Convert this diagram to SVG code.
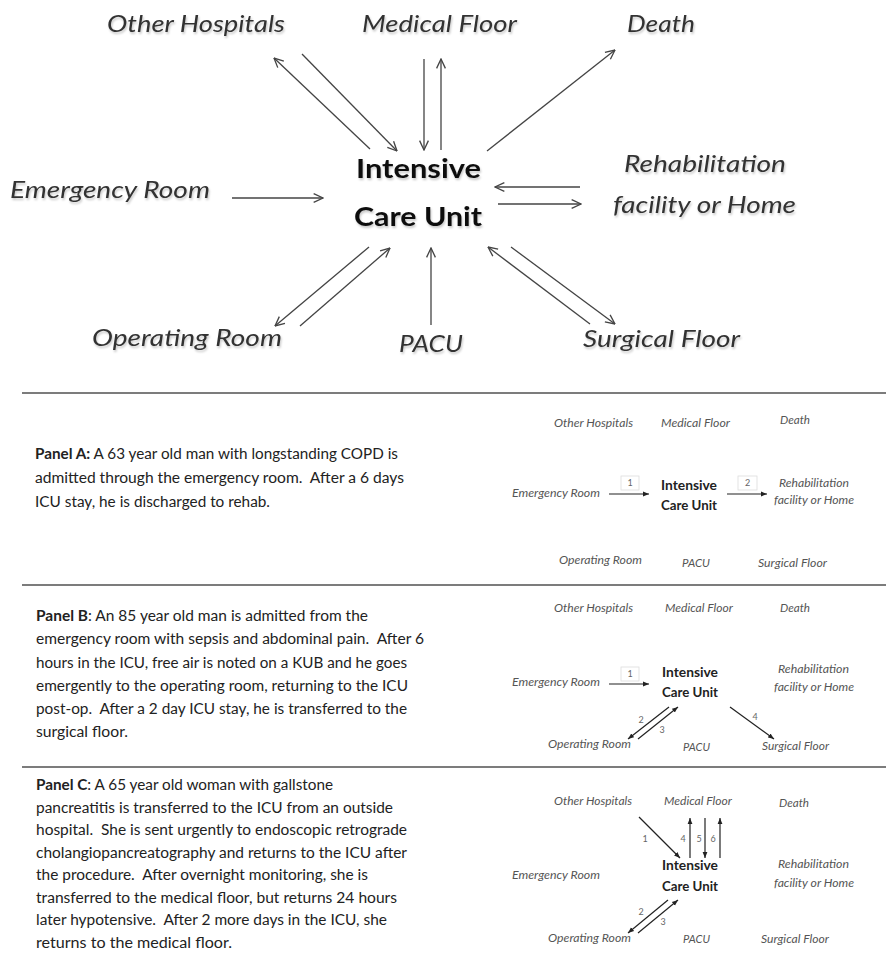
<svg xmlns="http://www.w3.org/2000/svg" width="886" height="954" viewBox="0 0 886 954">
  <defs>
    <style>
      .big { font-family: "Lato", "Liberation Sans", sans-serif; font-style: italic; font-size: 24px; fill: #333; filter: url(#soft); }
      .icu { font-family: "Lato", "Liberation Sans", sans-serif; font-weight: bold; font-size: 26px; fill: #111; filter: url(#soft); }
      .sm { font-family: "Lato", "Liberation Sans", sans-serif; font-style: italic; font-size: 11px; fill: #555; }
      .smicu { font-family: "Lato", "Liberation Sans", sans-serif; font-weight: bold; font-size: 12.5px; fill: #222; }
      .num { font-family: "Lato", "Liberation Sans", sans-serif; font-size: 9px; fill: #666; text-anchor: middle; }
      .body { font-family: "Lato", "Liberation Sans", sans-serif; font-size: 14.5px; fill: #222; }
      .body .b { font-weight: bold; }
      .sep { stroke: #7c7c7c; stroke-width: 2; }
      .big-arrow { stroke: #444; stroke-width: 1.3; fill: none; marker-end: url(#open); }
      .sm-arrow { stroke: #222; stroke-width: 1.2; fill: none; marker-end: url(#solid); }
      .tag { fill: #fff; stroke: #ddd; stroke-width: 0.8; }
    </style>
    <filter id="soft" x="-10%" y="-40%" width="130%" height="200%">
      <feDropShadow dx="1" dy="2" stdDeviation="1.2" flood-color="#000" flood-opacity="0.22"/>
    </filter>
    <marker id="open" viewBox="0 0 10 10" refX="9.5" refY="5" markerWidth="11" markerHeight="11" markerUnits="userSpaceOnUse" orient="auto">
      <path d="M1,1 L9.5,5 L1,9" fill="none" stroke="#444" stroke-width="1.2"/>
    </marker>
    <marker id="solid" viewBox="0 0 10 10" refX="10" refY="5" markerWidth="6" markerHeight="6" markerUnits="userSpaceOnUse" orient="auto">
      <path d="M0,1 L10,5 L0,9 z" fill="#222"/>
    </marker>
  </defs>

  <rect width="886" height="954" fill="#fff"/>

  <!-- Overview: all possible ICU transfers -->
  <g id="overview">
    <g id="connectors">
      <line class="big-arrow" x1="370" y1="149" x2="274" y2="58"/>
      <line class="big-arrow" x1="302" y1="54" x2="397" y2="151"/>
      <line class="big-arrow" x1="424" y1="59" x2="424" y2="150"/>
      <line class="big-arrow" x1="441" y1="150" x2="441" y2="59"/>
      <line class="big-arrow" x1="487" y1="151" x2="615" y2="50"/>
      <line class="big-arrow" x1="232" y1="198" x2="323" y2="198"/>
      <line class="big-arrow" x1="580" y1="187" x2="495" y2="187"/>
      <line class="big-arrow" x1="498" y1="204" x2="581" y2="204"/>
      <line class="big-arrow" x1="369" y1="247" x2="275" y2="326"/>
      <line class="big-arrow" x1="300" y1="326" x2="390" y2="248"/>
      <line class="big-arrow" x1="431" y1="325" x2="431" y2="248"/>
      <line class="big-arrow" x1="590" y1="324" x2="488" y2="247"/>
      <line class="big-arrow" x1="511" y1="247" x2="615" y2="324"/>
    </g>
    <g id="other-hospitals"><text class="big" x="107" y="32" textLength="178" lengthAdjust="spacingAndGlyphs">Other Hospitals</text></g>
    <g id="medical-floor"><text class="big" x="362" y="32" textLength="155" lengthAdjust="spacingAndGlyphs">Medical Floor</text></g>
    <g id="death"><text class="big" x="627" y="32" textLength="68" lengthAdjust="spacingAndGlyphs">Death</text></g>
    <g id="emergency-room"><text class="big" x="10" y="198" textLength="200" lengthAdjust="spacingAndGlyphs">Emergency Room</text></g>
    <g id="rehab-home">
      <text class="big" x="624" y="172" textLength="162" lengthAdjust="spacingAndGlyphs">Rehabilitation</text>
      <text class="big" x="613" y="213" textLength="183" lengthAdjust="spacingAndGlyphs">facility or Home</text>
    </g>
    <g id="icu">
      <text class="icu" x="356" y="178" textLength="125" lengthAdjust="spacingAndGlyphs">Intensive</text>
      <text class="icu" x="354" y="226" textLength="128" lengthAdjust="spacingAndGlyphs">Care Unit</text>
    </g>
    <g id="operating-room"><text class="big" x="92" y="346" textLength="190" lengthAdjust="spacingAndGlyphs">Operating Room</text></g>
    <g id="pacu"><text class="big" x="399" y="352" textLength="64" lengthAdjust="spacingAndGlyphs">PACU</text></g>
    <g id="surgical-floor"><text class="big" x="583" y="347" textLength="157" lengthAdjust="spacingAndGlyphs">Surgical Floor</text></g>
  </g>

  <!-- Panel dividers -->
  <g id="dividers">
    <line class="sep" x1="22" y1="393" x2="886" y2="393"/>
    <line class="sep" x1="22" y1="585" x2="886" y2="585"/>
    <line class="sep" x1="22" y1="767" x2="886" y2="767"/>
  </g>

  <!-- Panel A -->
  <g id="panel-a">
    <g id="panel-a-text">
      <text class="body" x="35" y="459" textLength="363" lengthAdjust="spacingAndGlyphs" xml:space="preserve"><tspan class="b">Panel A:</tspan> A 63 year old man with longstanding COPD is</text>
      <text class="body" x="35" y="483" textLength="369" lengthAdjust="spacingAndGlyphs" xml:space="preserve">admitted through the emergency room.  After a 6 days</text>
      <text class="body" x="35" y="507" textLength="235" lengthAdjust="spacingAndGlyphs" xml:space="preserve">ICU stay, he is discharged to rehab.</text>
    </g>
    <g id="a-connectors">
      <line class="sm-arrow" x1="609" y1="494" x2="649" y2="494"/>
      <line class="sm-arrow" x1="727" y1="494" x2="767" y2="494"/>
      <rect class="tag" x="621" y="476" width="18" height="14"/>
      <text class="num" x="630" y="486">1</text>
      <rect class="tag" x="738" y="476" width="19" height="14"/>
      <text class="num" x="747.5" y="486">2</text>
    </g>
    <g id="a-other-hospitals"><text class="sm" x="554" y="427" textLength="79" lengthAdjust="spacingAndGlyphs">Other Hospitals</text></g>
    <g id="a-medical-floor"><text class="sm" x="661" y="427" textLength="69" lengthAdjust="spacingAndGlyphs">Medical Floor</text></g>
    <g id="a-death"><text class="sm" x="780" y="424" textLength="30" lengthAdjust="spacingAndGlyphs">Death</text></g>
    <g id="a-emergency-room"><text class="sm" x="512" y="497" textLength="88" lengthAdjust="spacingAndGlyphs">Emergency Room</text></g>
    <g id="a-icu">
      <text class="smicu" x="661" y="490" textLength="56" lengthAdjust="spacingAndGlyphs">Intensive</text>
      <text class="smicu" x="661" y="510" textLength="56" lengthAdjust="spacingAndGlyphs">Care Unit</text>
    </g>
    <g id="a-rehab-home">
      <text class="sm" x="779" y="487" textLength="70" lengthAdjust="spacingAndGlyphs">Rehabilitation</text>
      <text class="sm" x="774" y="504" textLength="80" lengthAdjust="spacingAndGlyphs">facility or Home</text>
    </g>
    <g id="a-operating-room"><text class="sm" x="559" y="564" textLength="83" lengthAdjust="spacingAndGlyphs">Operating Room</text></g>
    <g id="a-pacu"><text class="sm" x="682" y="567" textLength="28" lengthAdjust="spacingAndGlyphs">PACU</text></g>
    <g id="a-surgical-floor"><text class="sm" x="758" y="567" textLength="69" lengthAdjust="spacingAndGlyphs">Surgical Floor</text></g>
  </g>

  <!-- Panel B -->
  <g id="panel-b">
    <g id="panel-b-text">
      <text class="body" x="36" y="621" textLength="332" lengthAdjust="spacingAndGlyphs" xml:space="preserve"><tspan class="b">Panel B</tspan>: An 85 year old man is admitted from the</text>
      <text class="body" x="36" y="644" textLength="388" lengthAdjust="spacingAndGlyphs" xml:space="preserve">emergency room with sepsis and abdominal pain.  After 6</text>
      <text class="body" x="36" y="668" textLength="371" lengthAdjust="spacingAndGlyphs" xml:space="preserve">hours in the ICU, free air is noted on a KUB and he goes</text>
      <text class="body" x="36" y="691" textLength="372" lengthAdjust="spacingAndGlyphs" xml:space="preserve">emergently to the operating room, returning to the ICU</text>
      <text class="body" x="36" y="714" textLength="371" lengthAdjust="spacingAndGlyphs" xml:space="preserve">post-op.  After a 2 day ICU stay, he is transferred to the</text>
      <text class="body" x="36" y="737" textLength="92" lengthAdjust="spacingAndGlyphs" xml:space="preserve">surgical floor.</text>
    </g>
    <g id="b-connectors">
      <line class="sm-arrow" x1="609" y1="684" x2="649" y2="684"/>
      <rect class="tag" x="621" y="667" width="18" height="14"/>
      <text class="num" x="630" y="677">1</text>
      <line class="sm-arrow" x1="669" y1="707" x2="628" y2="739"/>
      <text class="num" x="641" y="723">2</text>
      <line class="sm-arrow" x1="638" y1="739" x2="678" y2="707"/>
      <text class="num" x="662" y="733">3</text>
      <line class="sm-arrow" x1="730" y1="707" x2="774" y2="739"/>
      <text class="num" x="755" y="720">4</text>
    </g>
    <g id="b-other-hospitals"><text class="sm" x="554" y="612" textLength="79" lengthAdjust="spacingAndGlyphs">Other Hospitals</text></g>
    <g id="b-medical-floor"><text class="sm" x="665" y="612" textLength="68" lengthAdjust="spacingAndGlyphs">Medical Floor</text></g>
    <g id="b-death"><text class="sm" x="780" y="612" textLength="30" lengthAdjust="spacingAndGlyphs">Death</text></g>
    <g id="b-emergency-room"><text class="sm" x="512" y="686" textLength="88" lengthAdjust="spacingAndGlyphs">Emergency Room</text></g>
    <g id="b-icu">
      <text class="smicu" x="662" y="677" textLength="56" lengthAdjust="spacingAndGlyphs">Intensive</text>
      <text class="smicu" x="662" y="697" textLength="56" lengthAdjust="spacingAndGlyphs">Care Unit</text>
    </g>
    <g id="b-rehab-home">
      <text class="sm" x="778" y="673" textLength="71" lengthAdjust="spacingAndGlyphs">Rehabilitation</text>
      <text class="sm" x="774" y="691" textLength="80" lengthAdjust="spacingAndGlyphs">facility or Home</text>
    </g>
    <g id="b-operating-room"><text class="sm" x="548" y="748" textLength="83" lengthAdjust="spacingAndGlyphs">Operating Room</text></g>
    <g id="b-pacu"><text class="sm" x="683" y="751" textLength="27" lengthAdjust="spacingAndGlyphs">PACU</text></g>
    <g id="b-surgical-floor"><text class="sm" x="762" y="750" textLength="67" lengthAdjust="spacingAndGlyphs">Surgical Floor</text></g>
  </g>

  <!-- Panel C -->
  <g id="panel-c">
    <g id="panel-c-text">
      <text class="body" x="36" y="790" textLength="297" lengthAdjust="spacingAndGlyphs" xml:space="preserve"><tspan class="b">Panel C</tspan>: A 65 year old woman with gallstone</text>
      <text class="body" x="36" y="812.5" textLength="357" lengthAdjust="spacingAndGlyphs" xml:space="preserve">pancreatitis is transferred to the ICU from an outside</text>
      <text class="body" x="36" y="835" textLength="371" lengthAdjust="spacingAndGlyphs" xml:space="preserve">hospital.  She is sent urgently to endoscopic retrograde</text>
      <text class="body" x="36" y="857.5" textLength="371" lengthAdjust="spacingAndGlyphs" xml:space="preserve">cholangiopancreatography and returns to the ICU after</text>
      <text class="body" x="36" y="880" textLength="332" lengthAdjust="spacingAndGlyphs" xml:space="preserve">the procedure.  After overnight monitoring, she is</text>
      <text class="body" x="36" y="902.5" textLength="361" lengthAdjust="spacingAndGlyphs" xml:space="preserve">transferred to the medical floor, but returns 24 hours</text>
      <text class="body" x="36" y="925" textLength="351" lengthAdjust="spacingAndGlyphs" xml:space="preserve">later hypotensive.  After 2 more days in the ICU, she</text>
      <text class="body" x="36" y="947.5" textLength="196" lengthAdjust="spacingAndGlyphs" xml:space="preserve">returns to the medical floor.</text>
    </g>
    <g id="c-connectors">
      <line class="sm-arrow" x1="639" y1="817" x2="680" y2="858"/>
      <text class="num" x="645" y="842">1</text>
      <line class="sm-arrow" x1="690" y1="858" x2="690" y2="818"/>
      <text class="num" x="683" y="842">4</text>
      <line class="sm-arrow" x1="705" y1="818" x2="705" y2="858"/>
      <text class="num" x="699" y="842">5</text>
      <line class="sm-arrow" x1="720" y1="858" x2="720" y2="818"/>
      <text class="num" x="713" y="842">6</text>
      <line class="sm-arrow" x1="668" y1="900" x2="628" y2="933"/>
      <text class="num" x="641" y="915">2</text>
      <line class="sm-arrow" x1="638" y1="933" x2="678" y2="900"/>
      <text class="num" x="663" y="925">3</text>
    </g>
    <g id="c-other-hospitals"><text class="sm" x="554" y="805" textLength="78" lengthAdjust="spacingAndGlyphs">Other Hospitals</text></g>
    <g id="c-medical-floor"><text class="sm" x="664" y="805" textLength="68" lengthAdjust="spacingAndGlyphs">Medical Floor</text></g>
    <g id="c-death"><text class="sm" x="779" y="807" textLength="30" lengthAdjust="spacingAndGlyphs">Death</text></g>
    <g id="c-emergency-room"><text class="sm" x="512" y="879" textLength="88" lengthAdjust="spacingAndGlyphs">Emergency Room</text></g>
    <g id="c-icu">
      <text class="smicu" x="662" y="870" textLength="56" lengthAdjust="spacingAndGlyphs">Intensive</text>
      <text class="smicu" x="662" y="891" textLength="56" lengthAdjust="spacingAndGlyphs">Care Unit</text>
    </g>
    <g id="c-rehab-home">
      <text class="sm" x="778" y="868" textLength="71" lengthAdjust="spacingAndGlyphs">Rehabilitation</text>
      <text class="sm" x="774" y="887" textLength="80" lengthAdjust="spacingAndGlyphs">facility or Home</text>
    </g>
    <g id="c-operating-room"><text class="sm" x="548" y="942" textLength="83" lengthAdjust="spacingAndGlyphs">Operating Room</text></g>
    <g id="c-pacu"><text class="sm" x="683" y="943" textLength="27" lengthAdjust="spacingAndGlyphs">PACU</text></g>
    <g id="c-surgical-floor"><text class="sm" x="761" y="943" textLength="68" lengthAdjust="spacingAndGlyphs">Surgical Floor</text></g>
  </g>
</svg>
